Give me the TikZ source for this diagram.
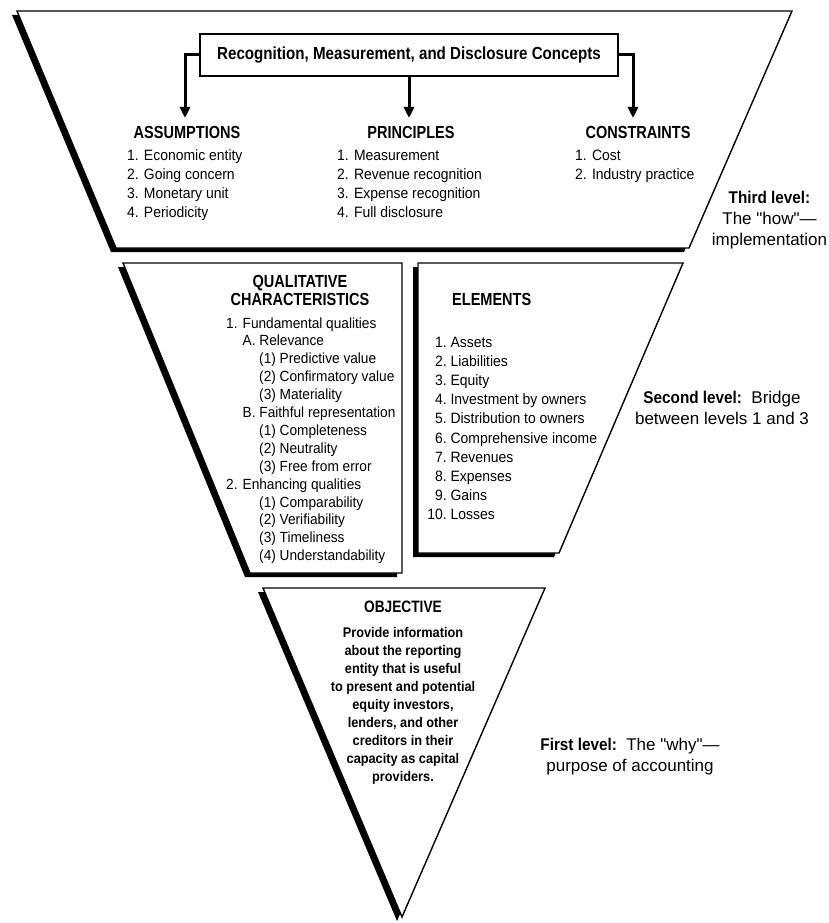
\documentclass[tikz,border=0pt]{standalone}
\usepackage{fontspec}
\setmainfont{Liberation Sans}
\newfontfamily\bodyf{Liberation Sans}[FakeStretch=0.93]
\newfontfamily\headf{Liberation Sans}[FakeStretch=0.83]
\newfontfamily\recf{Liberation Sans}[FakeStretch=0.865]
\newfontfamily\objf{Liberation Sans}[FakeStretch=0.91]
\newfontfamily\sidef{Liberation Sans}
\newfontfamily\sidebf{Liberation Sans}[FakeStretch=0.9]
\usetikzlibrary{arrows.meta}
\begin{document}
\begin{tikzpicture}[x=1pt,y=-1pt,
  panel/.style={fill=white,draw=black,line width=1.4pt,line join=miter},
  shade/.style={fill=black,shift={(-5,4)}},
  conn/.style={line width=3pt,-{Triangle[width=10pt,length=11pt]}},
  head/.style={font=\headf\bfseries\fontsize{17.5}{18}\selectfont,inner sep=0pt,anchor=base},
  item/.style={font=\bodyf\fontsize{15}{19}\selectfont,inner sep=0pt,anchor=base west},
  qitem/.style={font=\bodyf\fontsize{14.7}{18}\selectfont,inner sep=0pt,anchor=base west},
  recbox/.style={draw=black,line width=2pt,fill=white,minimum width=418pt,minimum height=42pt,inner sep=0pt,font=\recf\bfseries\fontsize{17.5}{19}\selectfont},
  side/.style={font=\sidef\fontsize{17}{21}\selectfont,align=center,inner sep=0pt},
  objtext/.style={font=\objf\bfseries\fontsize{14}{18}\selectfont,align=center,inner sep=0pt}
]
\useasboundingbox (0,0) rectangle (829,923);

% third level
\fill[shade] (17,11) -- (792,11) -- (689,248) -- (116,248) -- cycle;
\draw[panel] (17,11) -- (792,11) -- (689,248) -- (116,248) -- cycle;
% second level
\fill[shade] (123,263) -- (402,263) -- (402,573) -- (250,573) -- cycle;
\draw[panel] (123,263) -- (402,263) -- (402,573) -- (250,573) -- cycle;
\fill[shade] (418,263) -- (683,263) -- (559,553) -- (418,553) -- cycle;
\draw[panel] (418,263) -- (683,263) -- (559,553) -- (418,553) -- cycle;
% first level
\fill[shade] (263,588) -- (545,588) -- (402,917) -- cycle;
\draw[panel] (263,588) -- (545,588) -- (402,917) -- cycle;

% concepts box and arrows
\node[recbox] (rec) at (409,55) {Recognition, Measurement, and Disclosure Concepts};
\coordinate (tA) at (185,118);
\coordinate (tP) at (409,118);
\coordinate (tC) at (633,118);
\draw[conn] (rec.west) -| (tA);
\draw[conn] (rec.south) -- (tP);
\draw[conn] (rec.east) -| (tC);

\node[head] (assum) at (187,139) {ASSUMPTIONS};
\node[head] (princ) at (411,139) {PRINCIPLES};
\node[head] (constr) at (638,139) {CONSTRAINTS};
\foreach \t [count=\i] in {{1. Economic entity},{2. Going concern},{3. Monetary unit},{4. Periodicity}}
  \node[item] (as\i) at (127,{160+19*(\i-1)}) {\t};
\foreach \t [count=\i] in {{1. Measurement},{2. Revenue recognition},{3. Expense recognition},{4. Full disclosure}}
  \node[item] (pr\i) at (337,{160+19*(\i-1)}) {\t};
\foreach \t [count=\i] in {{1. Cost},{2. Industry practice}}
  \node[item] (co\i) at (575,{160+19*(\i-1)}) {\t};

\node[side] (third) at (769.5,220) {{\sidebf\bfseries Third level:}\\The "how"—\\implementation};

% qualitative characteristics
\node[head,align=center,anchor=center] (qualh) at (300,290) {QUALITATIVE\\CHARACTERISTICS};
\foreach \d/\t [count=\i] in {{0/1. Fundamental qualities},{1/A. Relevance},{2/(1) Predictive value},{2/(2) Confirmatory value},{2/(3) Materiality},{1/B. Faithful representation},{2/(1) Completeness},{2/(2) Neutrality},{2/(3) Free from error},{0/2. Enhancing qualities},{2/(1) Comparability},{2/(2) Verifiability},{2/(3) Timeliness},{2/(4) Understandability}}
  \node[qitem] (q\i) at ({226+16.5*\d},{328+17.9*(\i-1)}) {\t};

% elements
\node[head,anchor=base west] (elh) at (452,305) {ELEMENTS};
\foreach \n/\t [count=\i] in {1./Assets,2./Liabilities,3./Equity,4./Investment by owners,5./Distribution to owners,6./Comprehensive income,7./Revenues,8./Expenses,9./Gains,10./Losses}
  \node[item] (el\i) at (427,{347+19.2*(\i-1)}) {\makebox[19.5pt][r]{\n}\ \t};

\node[side] (second) at (722,408) {{\sidebf\bfseries Second level:}\hspace{0.55em}Bridge\\between levels 1 and 3};

% objective
\node[head,font=\headf\bfseries\fontsize{16.5}{18}\selectfont] (objh) at (403,612) {OBJECTIVE};
\node[objtext] (objt) at (403,706) {Provide information\\about the reporting\\entity that is useful\\to present and potential\\equity investors,\\lenders, and other\\creditors in their\\capacity as capital\\providers.};

\node[side] (first) at (630,757) {{\sidebf\bfseries First level:}\hspace{0.55em}The "why"—\\purpose of accounting};
\end{tikzpicture}
\end{document}
